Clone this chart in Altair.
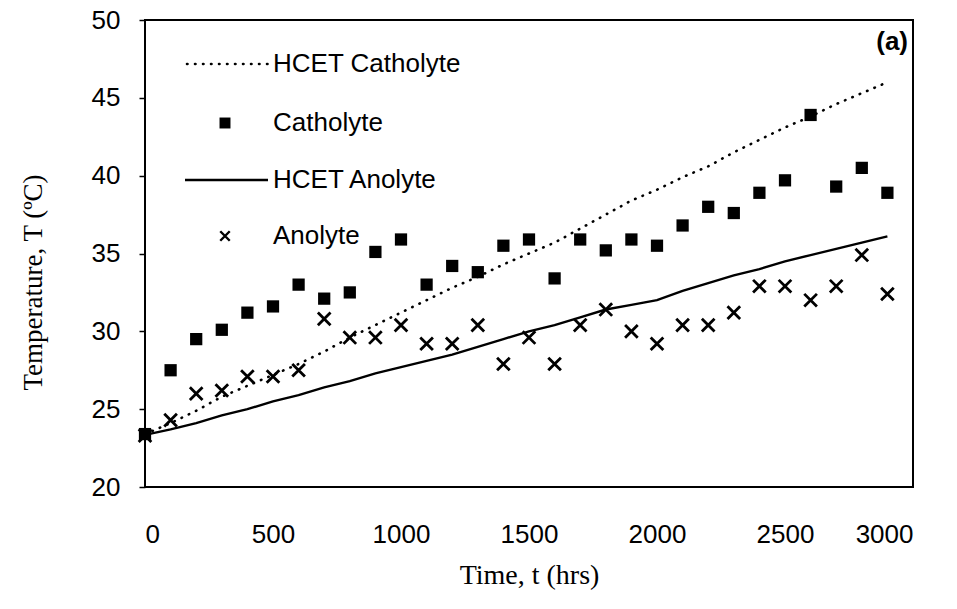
import altair as alt
import pandas as pd

# ---- data ----
time_pts = [0, 100, 200, 300, 400, 500, 600, 700, 800, 900, 1000, 1100, 1200, 1300, 1400,
            1500, 1600, 1700, 1800, 1900, 2000, 2100, 2200, 2300, 2400, 2500, 2600, 2700, 2800, 2900]
catholyte = [23.4, 27.5, 29.5, 30.1, 31.2, 31.6, 33.0, 32.1, 32.5, 35.1, 35.9, 33.0, 34.2, 33.8, 35.5,
             35.9, 33.4, 35.9, 35.2, 35.9, 35.5, 36.8, 38.0, 37.6, 38.9, 39.7, 43.9, 39.3, 40.5, 38.9]
anolyte = [23.3, 24.3, 26.0, 26.2, 27.1, 27.1, 27.5, 30.8, 29.6, 29.6, 30.4, 29.2, 29.2, 30.4, 27.9,
           29.6, 27.9, 30.4, 31.4, 30.0, 29.2, 30.4, 30.4, 31.2, 32.9, 32.9, 32.0, 32.9, 34.9, 32.4]
hcet_catholyte = [23.4, 24.1, 24.9, 25.8, 26.5, 27.2, 27.9, 28.7, 29.6, 30.4, 31.2, 32.0, 32.8, 33.5, 34.3,
                  35.0, 35.7, 36.6, 37.5, 38.4, 39.1, 39.9, 40.6, 41.5, 42.3, 43.1, 43.8, 44.6, 45.3, 46.0]
hcet_anolyte = [23.35, 23.7, 24.1, 24.6, 25.0, 25.5, 25.9, 26.4, 26.8, 27.3, 27.7, 28.1, 28.5, 29.0, 29.5,
                30.0, 30.4, 30.9, 31.4, 31.7, 32.0, 32.6, 33.1, 33.6, 34.0, 34.5, 34.9, 35.3, 35.7, 36.1]

x_ticks = [0, 500, 1000, 1500, 2000, 2500, 3000]
y_ticks = [20, 25, 30, 35, 40, 45, 50]
legend_labels = ["HCET Catholyte", "Catholyte", "HCET Anolyte", "Anolyte"]
panel_label = "(a)"

df = pd.DataFrame({
    "t": time_pts,
    "cath": catholyte,
    "anol": anolyte,
    "hcet_c": hcet_catholyte,
    "hcet_a": hcet_anolyte,
})
one = pd.DataFrame({"k": [0]})

SANS = "Liberation Sans"
SERIF = "Liberation Serif"
CROSS = "M-1,-1L1,1M-1,1L1,-1"

xs = alt.Scale(domain=[0, 3000], nice=False, zero=False)
ys = alt.Scale(domain=[20, 50], nice=False, zero=False)

X = alt.X("t:Q", scale=xs, axis=alt.Axis(
    title="Time, t (hrs)", values=x_ticks, format="d", grid=False, ticks=False,
    domain=False, labelFont=SANS, labelFontSize=26, labelColor="black",
    labelPadding=34, titleFont=SERIF, titleFontSize=28, titleFontWeight="normal",
    titleColor="black", titlePadding=14))

def Y(field):
    return alt.Y(field, scale=ys, axis=alt.Axis(
        title="Temperature, T (ºC)", values=y_ticks, grid=False, ticks=True,
        tickSize=6, tickColor="black", tickWidth=1.5, domain=False,
        labelFont=SANS, labelFontSize=26, labelColor="black", labelPadding=19,
        titleFont=SERIF, titleFontSize=27, titleFontWeight="normal",
        titleColor="black", titlePadding=44, titleY=262))

base = alt.Chart(df)

line_c = base.mark_line(color="black", strokeWidth=2.6, strokeDash=[0.5, 7.5],
                        strokeCap="round").encode(x=X, y=Y("hcet_c:Q"))
line_a = base.mark_line(color="black", strokeWidth=2.4).encode(x=X, y=Y("hcet_a:Q"))
pts_c = base.mark_point(shape="square", filled=True, color="black", size=150,
                        opacity=1).encode(x=X, y=Y("cath:Q"))
pts_a = base.mark_point(shape=CROSS, filled=False, color="black", size=160,
                        strokeWidth=2.8, opacity=1).encode(x=X, y=Y("anol:Q"))

# ---- legend drawn inside the plot ----
leg_y = [44, 103, 160, 216]
leg_line_c = alt.Chart(one).mark_rule(color="black", strokeWidth=2.6, strokeDash=[0.5, 7.5],
                                      strokeCap="round").encode(
    x=alt.value(42), x2=alt.value(123), y=alt.value(leg_y[0]))
leg_line_a = alt.Chart(one).mark_rule(color="black", strokeWidth=2.4).encode(
    x=alt.value(40), x2=alt.value(123), y=alt.value(leg_y[2]))
leg_sq = alt.Chart(one).mark_point(shape="square", filled=True, color="black", size=120,
                                   opacity=1).encode(x=alt.value(80), y=alt.value(leg_y[1]))
leg_x = alt.Chart(one).mark_point(shape=CROSS, filled=False, color="black", size=90,
                                  strokeWidth=2.4, opacity=1).encode(x=alt.value(80), y=alt.value(leg_y[3]))

leg_text = []
for lab, yy in zip(legend_labels, leg_y):
    leg_text.append(
        alt.Chart(one).mark_text(text=lab, align="left", baseline="middle", font=SANS,
                                 fontSize=26, color="black").encode(
            x=alt.value(128), y=alt.value(yy)))

panel = alt.Chart(one).mark_text(text=panel_label, align="right", baseline="middle", font=SANS,
                                 fontSize=26, fontWeight="bold", color="black").encode(
    x=alt.value(763), y=alt.value(22))

chart = alt.layer(line_c, line_a, pts_c, pts_a, leg_line_c, leg_line_a, leg_sq, leg_x,
                  *leg_text, panel).properties(
    width=768, height=467,
    autosize=alt.AutoSizeParams(type="none"),
    padding={"left": 145, "top": 20, "right": 44, "bottom": 122},
    background="white",
).configure_view(stroke="black", strokeWidth=2)

chart.save("out.html", embed_options={"renderer": "svg", "actions": False})
